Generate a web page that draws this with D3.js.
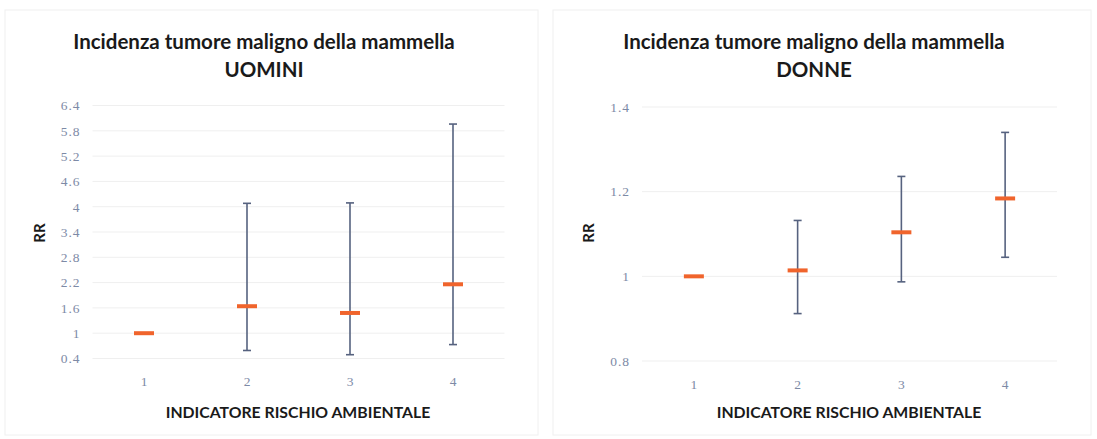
<!DOCTYPE html>
<html><head><meta charset="utf-8">
<script src="https://cdn.jsdelivr.net/npm/d3@7"></script>
<style>body{margin:0;background:#fff}svg{display:block}</style>
</head><body>
<svg id="c" width="1097" height="439"></svg>
<script>
const categories = ["1","2","3","4"];
const titleLine1 = "Incidenza tumore maligno della mammella";
const uominiRR   = [1.0, 1.64, 1.48, 2.16];
const uominiLow  = [1.0, 0.59, 0.49, 0.73];
const uominiHigh = [1.0, 4.08, 4.09, 5.96];
const uominiTicks = [0.4,1,1.6,2.2,2.8,3.4,4,4.6,5.2,5.8,6.4];
const donneRR    = [1.0, 1.014, 1.104, 1.184];
const donneLow   = [1.0, 0.912, 0.987, 1.045];
const donneHigh  = [1.0, 1.132, 1.236, 1.340];
const donneTicks = [0.8,1,1.2,1.4];

const svg = d3.select("#c");
const font = "Lato, 'Open Sans', sans-serif";

function panel(cfg){
  const g = svg.append("g");
  g.append("rect").attr("x",cfg.bx).attr("y",cfg.by).attr("width",cfg.bw).attr("height",cfg.bh)
    .attr("fill","none").attr("stroke","#f0f0f0").attr("stroke-width",1);
  const x = d3.scaleBand().domain(categories).range([cfg.x0,cfg.x1]);
  const y = d3.scaleLinear().domain([cfg.ticks[0], cfg.ticks[cfg.ticks.length-1]]).range([cfg.y0,cfg.y1]);
  g.append("g").selectAll("line").data(cfg.ticks).join("line")
    .attr("x1",cfg.x0).attr("x2",cfg.x1).attr("y1",d=>y(d)).attr("y2",d=>y(d))
    .attr("stroke","#efefef").attr("stroke-width",1);
  const ya = g.append("g").attr("transform",`translate(${cfg.x0-10},0)`)
    .call(d3.axisLeft(y).tickValues(cfg.ticks).tickSize(0).tickPadding(2).tickFormat(d=>String(d)));
  ya.select(".domain").remove();
  ya.selectAll("text").attr("fill","#7d8aa6").attr("font-family","'Liberation Serif', serif")
    .attr("font-size",13.5).attr("letter-spacing",1);
  const xa = g.append("g").attr("transform",`translate(0,${cfg.y0+14})`)
    .call(d3.axisBottom(x).tickSize(0).tickPadding(4));
  xa.select(".domain").remove();
  xa.selectAll("text").attr("fill","#7d8aa6").attr("font-family","'Liberation Serif', serif").attr("font-size",13.5);
  const cx = d=>x(d)+x.bandwidth()/2;
  const data = categories.map((c,i)=>({c, v:cfg.rr[i], lo:cfg.lo[i], hi:cfg.hi[i]}));
  const eb = data.filter(d=>d.hi>d.lo);
  g.append("g").selectAll("line").data(eb).join("line")
    .attr("x1",d=>cx(d.c)).attr("x2",d=>cx(d.c)).attr("y1",d=>y(d.lo)).attr("y2",d=>y(d.hi))
    .attr("stroke","#56627f").attr("stroke-width",1.6);
  ["lo","hi"].forEach(k=>{
    g.append("g").selectAll("line").data(eb).join("line")
      .attr("x1",d=>cx(d.c)-4).attr("x2",d=>cx(d.c)+4).attr("y1",d=>y(d[k])).attr("y2",d=>y(d[k]))
      .attr("stroke","#56627f").attr("stroke-width",1.6);
  });
  g.append("g").selectAll("line").data(data).join("line")
    .attr("x1",d=>cx(d.c)-10).attr("x2",d=>cx(d.c)+10).attr("y1",d=>y(d.v)).attr("y2",d=>y(d.v))
    .attr("stroke","#f0642c").attr("stroke-width",4);
  const tx = cfg.tcx;
  g.append("text").attr("x",tx).attr("y",49).attr("text-anchor","middle").attr("font-family",font)
    .attr("font-weight","bold").attr("font-size",20.5).attr("fill","#1a1a1a").text(titleLine1);
  g.append("text").attr("x",tx).attr("y",77).attr("text-anchor","middle").attr("font-family",font)
    .attr("font-weight","bold").attr("font-size",20.5).attr("fill","#1a1a1a").text(cfg.sub);
  g.append("text").attr("x",cfg.xlx).attr("y",418).attr("text-anchor","middle").attr("font-family",font)
    .attr("font-weight","bold").attr("font-size",15.8).attr("fill","#1a1a1a").text("INDICATORE RISCHIO AMBIENTALE");
  g.append("text").attr("transform",`translate(${cfg.rrx},${cfg.rry}) rotate(-90)`).attr("text-anchor","middle")
    .attr("font-family",font).attr("font-weight","bold").attr("font-size",15).attr("fill","#1a1a1a").text("RR");
}

panel({bx:5,by:10,bw:533,bh:425, x0:92.5,x1:504.5, y0:358.5,y1:105.5, ticks:uominiTicks,
  rr:uominiRR, lo:uominiLow, hi:uominiHigh, sub:"UOMINI", tcx:264, xlx:298, rrx:45, rry:233});
panel({bx:553,by:10,bw:538,bh:425, x0:642,x1:1057, y0:361,y1:107, ticks:donneTicks,
  rr:donneRR, lo:donneLow, hi:donneHigh, sub:"DONNE", tcx:814, xlx:849, rrx:594, rry:233});
</script>
</body></html>
